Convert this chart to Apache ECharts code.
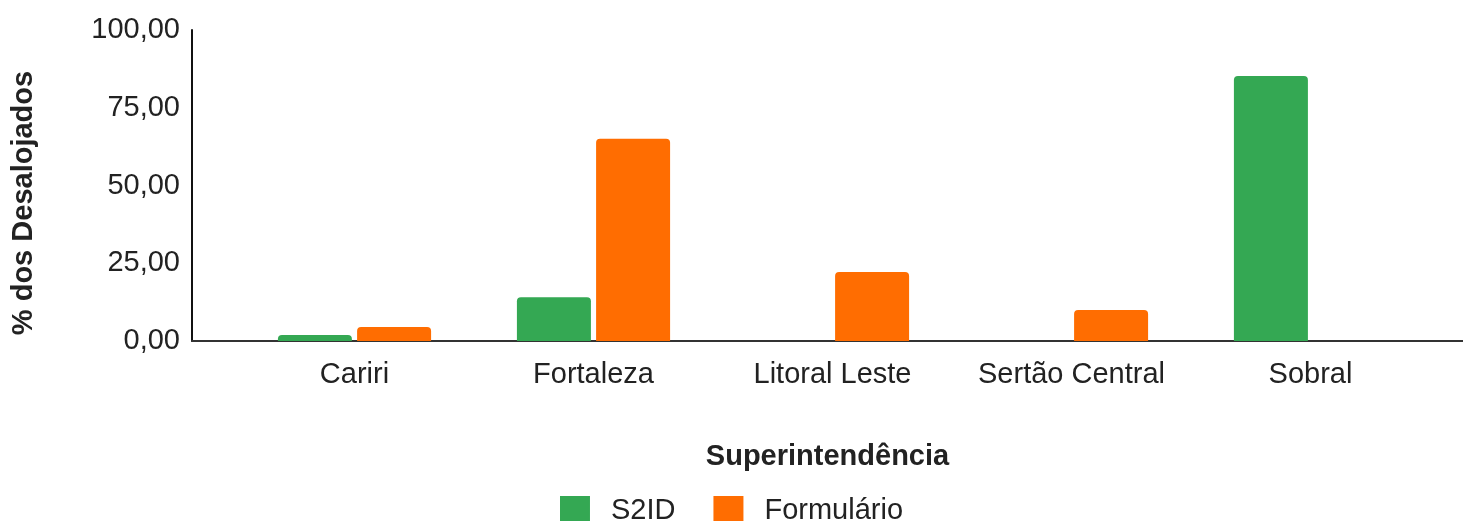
<!DOCTYPE html>
<html>
<head>
<meta charset="utf-8">
<script src="https://cdn.jsdelivr.net/npm/echarts@6/dist/echarts.min.js"></script>
<style>
  html, body { margin: 0; padding: 0; background: #fff; }
  #chart { width: 1463px; height: 521px; }
</style>
</head>
<body>
<div id="chart"></div>
<script>
var categories = ['Cariri', 'Fortaleza', 'Litoral Leste', 'Sertão Central', 'Sobral'];
var s2id = [1.9, 14.1, 0, 0, 85.2];
var formulario = [4.5, 65.0, 22.2, 10.0, 0];
var seriesNames = ['S2ID', 'Formulário'];
var yTicks = { min: 0, max: 100, interval: 25 };

var font = 'Liberation Sans, Arial, sans-serif';

var chartDom = document.getElementById('chart');
var myChart = echarts.init(chartDom);

function fmt(v) {
    return v.toFixed(2).replace('.', ',');
}

var option = {
    animation: false,
    backgroundColor: '#fff',
    textStyle: { fontFamily: font },
    legend: {
        data: seriesNames,
        bottom: -10,
        left: 'center',
        itemWidth: 30,
        itemHeight: 30,
        itemGap: 38,
        icon: 'rect',
        textStyle: { fontSize: 29, color: '#222', fontFamily: font, padding: [0, 0, 0, 16] }
    },
    grid: [
        // bars
        { left: 235, right: 33, top: 30, bottom: 180 },
        // axis frame
        { left: 192, right: 0, top: 30, bottom: 180 }
    ],
    xAxis: [{
        gridIndex: 0,
        type: 'category',
        data: categories,
        axisLine: { show: false },
        axisTick: { show: false },
        axisLabel: { interval: 0, fontSize: 29, color: '#222', margin: 19, fontFamily: font }
    }, {
        gridIndex: 1,
        type: 'value',
        min: 0,
        max: 1,
        axisLine: { show: true, lineStyle: { color: '#333', width: 2 } },
        axisTick: { show: false },
        axisLabel: { show: false },
        splitLine: { show: false },
        name: 'Superintendência',
        nameLocation: 'middle',
        nameGap: 101,
        nameTextStyle: { fontSize: 29, fontWeight: 'bold', color: '#222', fontFamily: font }
    }],
    yAxis: [{
        gridIndex: 0,
        type: 'value',
        min: yTicks.min,
        max: yTicks.max,
        interval: yTicks.interval,
        show: false
    }, {
        gridIndex: 1,
        type: 'value',
        min: yTicks.min,
        max: yTicks.max,
        interval: yTicks.interval,
        axisLine: { show: true, lineStyle: { color: '#111', width: 2 } },
        axisTick: { show: false },
        splitLine: { show: false },
        axisLabel: {
            fontSize: 29, color: '#222', margin: 12, fontFamily: font,
            formatter: function (v) { return fmt(v); }
        },
        name: '% dos Desalojados',
        nameLocation: 'middle',
        nameGap: 154,
        nameTextStyle: { fontSize: 29, fontWeight: 'bold', color: '#222', fontFamily: font, padding: [0, 35, 0, 0] }
    }],
    series: [{
        name: seriesNames[0],
        type: 'bar',
        xAxisIndex: 0,
        yAxisIndex: 0,
        data: s2id,
        barWidth: 74,
        barGap: '7%',
        itemStyle: { color: '#34a853', borderRadius: [4, 4, 0, 0] }
    }, {
        name: seriesNames[1],
        type: 'bar',
        xAxisIndex: 0,
        yAxisIndex: 0,
        data: formulario,
        barWidth: 74,
        barGap: '7%',
        itemStyle: { color: '#ff6d01', borderRadius: [4, 4, 0, 0] }
    }]
};

myChart.setOption(option);
window.addEventListener('resize', myChart.resize);
</script>
</body>
</html>
